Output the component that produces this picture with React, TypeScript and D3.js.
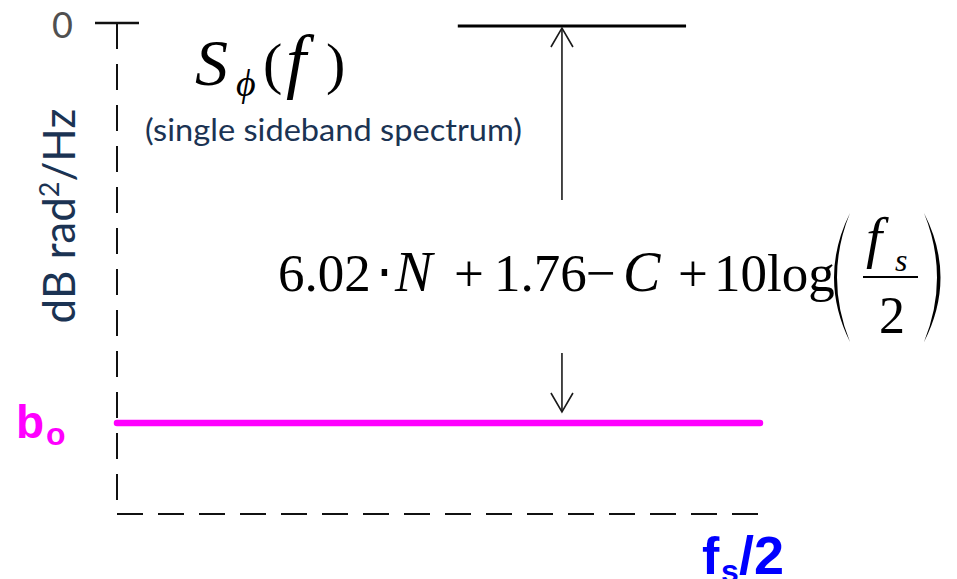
import React from "react";
import * as d3 from "d3";

// Normalised frequency axis: 0 .. fs/2
const freqDomain = [0, 1];
// Magnitude axis in dB rad²/Hz
const dbDomain = [-98, 0];
const yTickValues = [0];
const yTickLabels = ["0"];

// Quantisation noise floor b0 (flat single sideband spectrum)
const floorFreqs = [0, 1];
const floorLevels = [-80, -80];

// Full-scale reference level and the span between it and the floor
const refFreqs = [0.53, 0.885];
const refLevels = [-0.6, -0.6];
const spanFreq = 0.692;
const spanUpper = [-0.6, -35.4];
const spanLower = [-66, -77.8];

const W = 957;
const H = 579;

export default function App() {
  const x = d3.scaleLinear().domain(freqDomain).range([117, 760]);
  const y = d3.scaleLinear().domain(dbDomain).range([513, 23]);

  const line = d3
    .line<[number, number]>()
    .x((d) => x(d[0]))
    .y((d) => y(d[1]));

  const floorPts = floorFreqs.map((f, i) => [f, floorLevels[i]] as [number, number]);
  const refPts = refFreqs.map((f, i) => [f, refLevels[i]] as [number, number]);

  const ax = x(spanFreq);
  const upTop = y(spanUpper[0]) + 2;
  const upBot = y(spanUpper[1]);
  const dnTop = y(spanLower[0]);
  const dnBot = y(spanLower[1]);

  const serif = "'Liberation Serif', 'Times New Roman', serif";
  const sans = "Lato, 'Open Sans', sans-serif";
  const bold = "'Liberation Sans', Arial, sans-serif";
  const navy = "#1b3353";

  return (
    <svg
      width={W}
      height={H}
      viewBox={`0 0 ${W} ${H}`}
      style={{ position: "absolute", left: 0, top: 0, background: "#fff" }}
    >
      {/* y axis: dashed spine with the 0 dB tick */}
      <line
        x1={x(0)}
        x2={x(0)}
        y1={y(0)}
        y2={500}
        stroke="#111"
        strokeWidth={2}
        strokeDasharray="26 15"
      />
      {yTickValues.map((v, i) => (
        <g key={i}>
          <line x1={95} x2={139} y1={y(v)} y2={y(v)} stroke="#111" strokeWidth={2.5} />
          <text
            x={52}
            y={y(v) + 15}
            fontFamily={sans}
            fontSize={36}
            fill="#505050"
          >
            {yTickLabels[i]}
          </text>
        </g>
      ))}

      {/* x axis: dashed baseline */}
      <line
        x1={x(0)}
        x2={758}
        y1={y(dbDomain[0]) + 1}
        y2={y(dbDomain[0]) + 1}
        stroke="#111"
        strokeWidth={2}
        strokeDasharray="26 15"
      />

      {/* y axis title */}
      <text
        transform={`translate(75, 216) rotate(-90)`}
        textAnchor="middle"
        fontFamily={sans}
        fontSize={44}
        fill={navy}
      >
        dB rad
        <tspan fontSize={27} dy={-16}>2</tspan>
        <tspan dy={16}>/Hz</tspan>
      </text>

      {/* full-scale reference */}
      <path d={line(refPts) ?? ""} stroke="#000" strokeWidth={3} fill="none" />

      {/* noise floor */}
      <path
        d={line(floorPts) ?? ""}
        stroke="#ff00ff"
        strokeWidth={6.5}
        strokeLinecap="round"
        fill="none"
      />

      {/* span arrows */}
      <g stroke="#1a1a1a" strokeWidth={1.6} fill="none">
        <line x1={ax} x2={ax} y1={upTop} y2={upBot} />
        <polyline points={`${ax - 11},${upTop + 19} ${ax},${upTop} ${ax + 11},${upTop + 19}`} />
        <line x1={ax} x2={ax} y1={dnTop} y2={dnBot} />
        <polyline points={`${ax - 11},${dnBot - 19} ${ax},${dnBot} ${ax + 11},${dnBot - 19}`} />
      </g>

      {/* S_phi(f) */}
      <g fontFamily={serif} fill="#000">
        <text x={195} y={85} fontSize={66} fontStyle="italic">S</text>
        <text x={236} y={96} fontSize={38} fontStyle="italic">ϕ</text>
        <text x={263} y={83} fontSize={58}>(</text>
        <text x={286} y={85} fontSize={72} fontStyle="italic">f</text>
        <text x={326} y={83} fontSize={58}>)</text>
      </g>

      <text
        x={145}
        y={141}
        fontFamily={sans}
        fontSize={31}
        fill={navy}
        textLength={377}
        lengthAdjust="spacingAndGlyphs"
      >
        (single sideband spectrum)
      </text>

      {/* noise floor expression */}
      <g fontFamily={serif} fontSize={53} fill="#000">
        <text x={278} y={291}>6.02</text>
        <text x={376} y={291}>⋅</text>
        <text x={395} y={291} fontStyle="italic" fontSize={56}>N</text>
        <text x={454} y={291}>+</text>
        <text x={494} y={291}>1.76</text>
        <text x={586} y={291}>−</text>
        <text x={623} y={291} fontStyle="italic" fontSize={56}>C</text>
        <text x={678} y={291}>+</text>
        <text x={714} y={291}>10log</text>
        <path d="M 850 213 Q 818 277.5 850 342 Q 824 277.5 850 213 Z" fill="#000" />
        <path d="M 924 213 Q 957 277.5 924 342 Q 950 277.5 924 213 Z" fill="#000" />
        <text x={866} y={257} fontSize={58} fontStyle="italic">f</text>
        <text x={895} y={271} fontSize={32} fontStyle="italic">s</text>
        <line x1={863} x2={918} y1={277} y2={277} stroke="#000" strokeWidth={2} />
        <text x={892} y={333} fontSize={52} textAnchor="middle">2</text>
      </g>

      {/* axis markers */}
      <g fontFamily={bold} fontWeight="bold">
        <text x={16} y={438} fontSize={46} fill="#ff00ff">b</text>
        <text x={46} y={445} fontSize={32} fill="#ff00ff">o</text>
        <text x={702} y={574} fontSize={52} fill="#0000ff">f</text>
        <text x={721} y={582} fontSize={32} fill="#0000ff">s</text>
        <text x={739} y={574} fontSize={54} fill="#0000ff">/2</text>
      </g>
    </svg>
  );
}
